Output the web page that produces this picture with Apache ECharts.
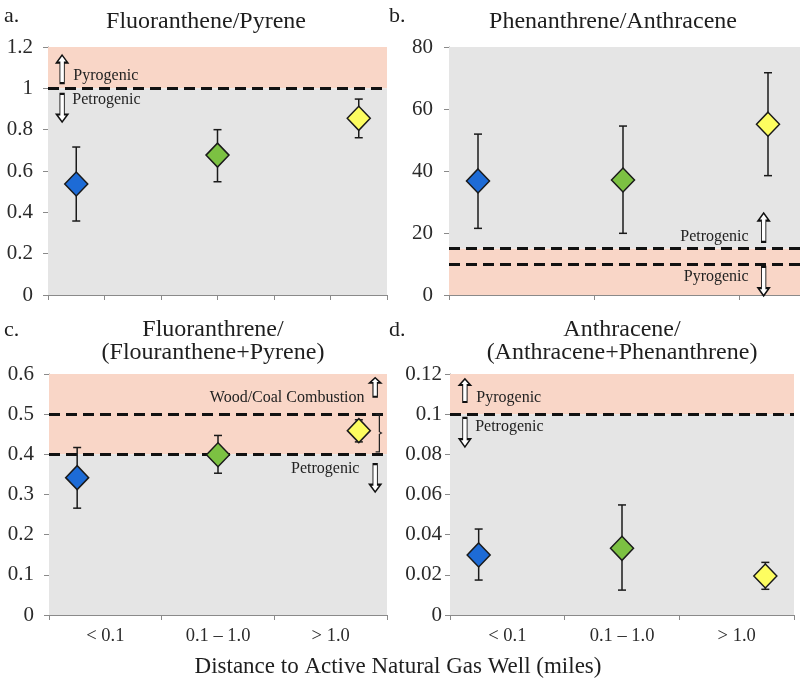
<!DOCTYPE html>
<html><head><meta charset="utf-8">
<script src="https://cdn.jsdelivr.net/npm/echarts@6/dist/echarts.min.js"></script>
<style>html,body{margin:0;padding:0;background:#fff}#c{width:800px;height:684px}</style>
</head><body><div id="c"></div>
<script>
// ---------- data ----------
const categories = ['< 0.1', '0.1 – 1.0', '> 1.0'];
const titlesA = ['Fluoranthene/Pyrene'];
const titlesB = ['Phenanthrene/Anthracene'];
const titlesC = ['Fluoranthrene/', '(Flouranthene+Pyrene)'];
const titlesD = ['Anthracene/', '(Anthracene+Phenanthrene)'];
const xAxisTitle = 'Distance to Active Natural Gas Well (miles)';

// a. Fluoranthene/Pyrene
const fpMean = [0.537, 0.677, 0.855];
const fpLow  = [0.358, 0.548, 0.761];
const fpHigh = [0.716, 0.800, 0.948];
const fpThresholds = [1.0];
const fpAxis = [0, 1.2, 0.2];

// b. Phenanthrene/Anthracene
const paMean = [36.8, 37.1, 55.1];
const paLow  = [21.5, 19.9, 38.5];
const paHigh = [51.9, 54.5, 71.7];
const paThresholds = [10, 15];
const paAxis = [0, 80, 20];

// c. Fluoranthene/(Fluoranthene+Pyrene)
const ffpMean = [0.342, 0.399, 0.459];
const ffpLow  = [0.266, 0.353, 0.431];
const ffpHigh = [0.417, 0.447, 0.486];
const ffpThresholds = [0.4, 0.5];
const ffpAxis = [0, 0.6, 0.1];

// d. Anthracene/(Anthracene+Phenanthrene)
const aapMean = [0.0299, 0.0332, 0.0194];
const aapLow  = [0.0174, 0.0124, 0.0128];
const aapHigh = [0.0428, 0.0548, 0.0262];
const aapThresholds = [0.1];
const aapAxis = [0, 0.12, 0.02];

// ---------- style / layout ----------
const SERIF = '"Liberation Serif","Times New Roman",serif';
const pointColors = ['#1d6bd6', '#7cc142', '#fdfd60'];
const PINK = '#f9d6c7', GRAY = '#e5e5e5', AXIS = '#8a8a8a';
const slots6 = [0.5, 3, 5.5];   // point placement on a 0-6 axis
const slots3 = [0.2, 1.2, 2.2]; // point placement on a 0-3 axis (panel b)

const grids = [
  {left: 48, top: 47, width: 339, height: 248, outerBoundsMode: 'none'},
  {left: 449, top: 47, width: 435, height: 248, outerBoundsMode: 'none'},
  {left: 49, top: 374, width: 338, height: 241, outerBoundsMode: 'none'},
  {left: 450, top: 374, width: 344, height: 241, outerBoundsMode: 'none'}
];

const UP = 'path://M5,0 L10,8 L7,8 L7,30 L3,30 L3,8 L0,8 Z';
const DOWN = 'path://M3,0 L7,0 L7,22 L10,22 L5,30 L0,22 L3,22 Z';
const BRACE = 'path://M0,0 L5,0 L5,18.5 L8,20 L5,21.5 L5,40 L0,40 L0,38.6 L3.6,38.6 L3.6,21 L5.6,20 L3.6,19 L3.6,1.4 L0,1.4 Z';

function arrow(sym, coord, h) {
  return {coord, symbol: sym, symbolSize: [11, h],
    itemStyle: {color: '#fff', borderColor: '#111', borderWidth: 1.4}, label: {show: false}};
}
function txt(text, coord, side) {
  return {coord, symbol: 'circle', symbolSize: 1, itemStyle: {color: 'rgba(0,0,0,0)'},
    label: {show: true, formatter: text, position: side, distance: 0,
      fontFamily: SERIF, fontSize: 16, color: '#222'}};
}

function yAxisCfg(g, ax, margin) {
  return {type: 'value', gridIndex: g, min: ax[0], max: ax[1], interval: ax[2],
    axisLine: {show: true, lineStyle: {color: AXIS, width: 1}},
    axisTick: {show: true, length: 5, lineStyle: {color: AXIS}},
    splitLine: {show: false},
    axisLabel: {fontFamily: SERIF, fontSize: 21, color: '#2a2a2a', margin}};
}

function panelSeries(g, mean, low, high, slots, thresholds, bandLow, bandHigh, markers) {
  const pts = mean.map((v, i) => ({value: [slots[i], v], itemStyle: {color: pointColors[i]}}));
  const bars = mean.map((v, i) => [slots[i], low[i], high[i]]);
  return [
    {type: 'custom', xAxisIndex: g, yAxisIndex: g, z: 4,
      data: bars, encode: {x: 0, y: [1, 2]},
      renderItem: function (params, api) {
        const x = api.value(0);
        const top = api.coord([x, api.value(2)]);
        const bot = api.coord([x, api.value(1)]);
        const st = {stroke: '#1a1a1a', lineWidth: 1.5};
        return {type: 'group', children: [
          {type: 'line', shape: {x1: top[0], y1: top[1], x2: bot[0], y2: bot[1]}, style: st},
          {type: 'line', shape: {x1: top[0] - 4, y1: top[1], x2: top[0] + 4, y2: top[1]}, style: st},
          {type: 'line', shape: {x1: bot[0] - 4, y1: bot[1], x2: bot[0] + 4, y2: bot[1]}, style: st}
        ]};
      },
      markArea: {silent: true, z: 1, data: [
        [{yAxis: bandLow[0], itemStyle: {color: PINK}}, {yAxis: bandLow[1]}],
        [{yAxis: bandHigh[0], itemStyle: {color: GRAY}}, {yAxis: bandHigh[1]}]
      ]},
      markLine: {silent: true, z: 3, symbol: 'none', label: {show: false},
        lineStyle: {color: '#111', width: 3, type: [11, 6]},
        data: thresholds.map(t => ({yAxis: t}))}
    },
    {type: 'scatter', xAxisIndex: g, yAxisIndex: g, z: 10,
      symbol: 'diamond', symbolSize: [23, 24],
      itemStyle: {borderColor: '#1a1a1a', borderWidth: 1.5, opacity: 1},
      data: pts,
      markPoint: {silent: true, z: 12, data: markers}
    }
  ];
}

const series = [].concat(
  panelSeries(0, fpMean, fpLow, fpHigh, slots6, fpThresholds,
    [1.0, 1.2], [0, 1.0], [
      arrow(UP, [0.25, 1.093], 28), txt('Pyrogenic', [0.44, 1.06], 'right'),
      arrow(DOWN, [0.25, 0.905], 28), txt('Petrogenic', [0.42, 0.943], 'right')
    ]),
  panelSeries(1, paMean, paLow, paHigh, slots3, paThresholds,
    [0, 15], [15, 80], [
      arrow(UP, [2.17, 21.8], 29), txt('Petrogenic', [2.07, 18.7], 'left'),
      arrow(DOWN, [2.17, 4.4], 29), txt('Pyrogenic', [2.07, 5.8], 'left')
    ]),
  panelSeries(2, ffpMean, ffpLow, ffpHigh, slots6, ffpThresholds,
    [0.4, 0.6], [0, 0.4], [
      arrow(UP, [5.79, 0.567], 19), txt('Wood/Coal Combustion', [5.61, 0.54], 'left'),
      {coord: [5.86, 0.453], symbol: BRACE, symbolSize: [7, 39],
        itemStyle: {color: '#222', borderWidth: 0}, label: {show: false}},
      arrow(DOWN, [5.79, 0.341], 28), txt('Petrogenic', [5.52, 0.363], 'left')
    ]),
  panelSeries(3, aapMean, aapLow, aapHigh, slots6, aapThresholds,
    [0.1, 0.12], [0, 0.1], [
      arrow(UP, [0.26, 0.1118], 23), txt('Pyrogenic', [0.45, 0.108], 'right'),
      arrow(DOWN, [0.26, 0.0909], 29), txt('Petrogenic', [0.43, 0.0936], 'right')
    ])
);

const catLabel = {fontFamily: SERIF, fontSize: 18.5, color: '#2a2a2a', margin: 12};
const xAxes = [
  {type: 'value', gridIndex: 0, min: 0, max: 6, interval: 1,
    axisLine: {show: true, lineStyle: {color: AXIS}}, axisTick: {show: true, length: 5, lineStyle: {color: AXIS}},
    axisLabel: {show: false}, splitLine: {show: false}},
  {type: 'value', gridIndex: 1, min: 0, max: 3, interval: 1,
    axisLine: {show: true, lineStyle: {color: AXIS}}, axisTick: {show: true, length: 5, lineStyle: {color: AXIS}},
    axisLabel: {show: false}, splitLine: {show: false}},
  {type: 'value', gridIndex: 2, min: 0, max: 6, show: false},
  {type: 'value', gridIndex: 3, min: 0, max: 6, show: false},
  {type: 'category', gridIndex: 2, data: categories, position: 'bottom', boundaryGap: true,
    axisLine: {show: true, lineStyle: {color: AXIS}}, axisTick: {show: true, length: 5, interval: 0, lineStyle: {color: AXIS}},
    axisLabel: catLabel},
  {type: 'category', gridIndex: 3, data: categories, position: 'bottom', boundaryGap: true,
    axisLine: {show: true, lineStyle: {color: AXIS}}, axisTick: {show: true, length: 5, interval: 0, lineStyle: {color: AXIS}},
    axisLabel: catLabel}
];

function gtext(text, x, y, size, align) {
  return {type: 'text', x, y, silent: true,
    style: {text, fontFamily: SERIF, fontSize: size, fill: '#1e1e1e',
      textAlign: align || 'center', textVerticalAlign: 'middle'}};
}

const graphics = [
  gtext('a.', 4, 16, 22, 'left'), gtext('b.', 389, 16, 22, 'left'),
  gtext('c.', 4, 330, 22, 'left'), gtext('d.', 389, 330, 22, 'left'),
  gtext(titlesA[0], 206, 22, 24), gtext(titlesB[0], 613, 22, 24),
  gtext(titlesC[0], 213, 330, 24), gtext(titlesC[1], 213, 353, 24),
  gtext(titlesD[0], 622, 330, 24), gtext(titlesD[1], 622, 353, 24),
  gtext(xAxisTitle, 398, 667, 23)
];

const chart = echarts.init(document.getElementById('c'), null, {renderer: 'canvas'});
chart.setOption({
  animation: false,
  backgroundColor: '#fff',
  grid: grids,
  xAxis: xAxes,
  yAxis: [yAxisCfg(0, fpAxis, 15), yAxisCfg(1, paAxis, 16), yAxisCfg(2, ffpAxis, 15), yAxisCfg(3, aapAxis, 8)],
  series,
  graphic: graphics
});
</script></body></html>
